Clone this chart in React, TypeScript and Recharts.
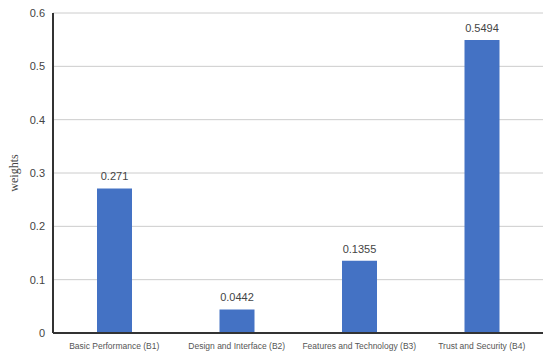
import React from 'react';
import { Bar, BarChart, CartesianGrid, LabelList, XAxis, YAxis } from 'recharts';

const categories = [
  'Basic Performance (B1)',
  'Design and Interface (B2)',
  'Features and Technology (B3)',
  'Trust and Security (B4)',
];
const weights = [0.271, 0.0442, 0.1355, 0.5494];
const yTicks = [0, 0.1, 0.2, 0.3, 0.4, 0.5, 0.6];

const data = categories.map((name, i) => ({ name, weight: weights[i] }));

const font = '"Liberation Sans", Arial, sans-serif';

export default function App() {
  return (
    <div style={{ position: 'absolute', left: 0, top: 0, background: '#fff' }}>
      <BarChart
        width={550}
        height={358}
        data={data}
        margin={{ top: 13, right: 7, bottom: 0, left: 0 }}
      >
        <CartesianGrid vertical={false} stroke="#cccccc" />
        <XAxis
          dataKey="name"
          height={25}
          tickLine={false}
          axisLine={{ stroke: '#333', strokeWidth: 2 }}
          tick={{ fontSize: 8.5, fill: '#555', fontFamily: font }}
          tickMargin={4}
          interval={0}
        />
        <YAxis
          width={53}
          domain={[0, 0.6]}
          ticks={yTicks}
          tickLine={false}
          axisLine={{ stroke: '#333', strokeWidth: 2 }}
          tick={{ fontSize: 11, fill: '#444', fontFamily: font }}
          label={{
            value: 'weights',
            angle: -90,
            position: 'insideLeft',
            offset: 14,
            style: { fontSize: 12, fill: '#444', fontFamily: '"Liberation Serif", serif', textAnchor: 'middle' },
          }}
        />
        <Bar dataKey="weight" fill="#4472c4" barSize={35} isAnimationActive={false}>
          <LabelList
            dataKey="weight"
            position="top"
            offset={8}
            style={{ fontSize: 11, fill: '#444', fontFamily: font }}
          />
        </Bar>
      </BarChart>
    </div>
  );
}
